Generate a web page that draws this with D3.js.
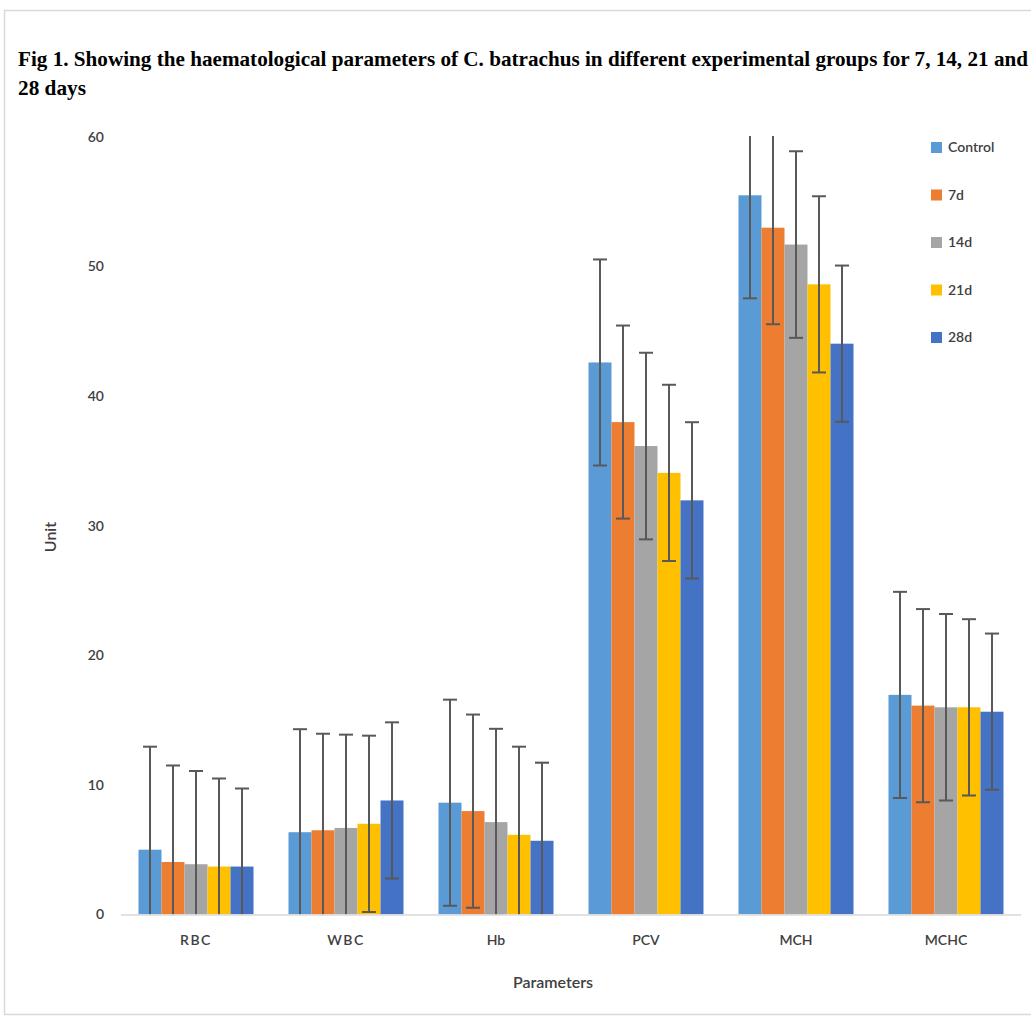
<!DOCTYPE html>
<html>
<head>
<meta charset="utf-8">
<script src="https://cdn.jsdelivr.net/npm/d3@7"></script>
<style>
  html, body { margin: 0; padding: 0; background: #fff; }
  svg { display: block; }
</style>
</head>
<body>
<svg id="chart" width="1031" height="1019"></svg>
<script>
// ---- data ----
const categories = ["RBC", "WBC", "Hb", "PCV", "MCH", "MCHC"];
const seriesNames = ["Control", "7d", "14d", "21d", "28d"];
const controlValues = [5.0, 6.35, 8.63, 42.6, 55.5, 16.95];
const d7Values      = [4.05, 6.5, 7.98, 38.0, 53.0, 16.12];
const d14Values     = [3.88, 6.68, 7.13, 36.15, 51.7, 15.99];
const d21Values     = [3.7, 7.0, 6.15, 34.08, 48.63, 15.99];
const d28Values     = [3.7, 8.8, 5.69, 31.96, 44.05, 15.65];
const seriesErrors  = [7.95, 7.45, 7.2, 6.8, 6.03];
const yTicks = [0, 10, 20, 30, 40, 50, 60];
const seriesColors = ["#5B9BD5", "#ED7D31", "#A5A5A5", "#FFC000", "#4472C4"];

const seriesValues = [controlValues, d7Values, d14Values, d21Values, d28Values];
const rows = [];
categories.forEach((c, ci) => {
  seriesNames.forEach((s, si) => {
    rows.push({ cat: c, series: s, si: si, value: seriesValues[si][ci], err: seriesErrors[si] });
  });
});

const svg = d3.select("#chart");

// frame
svg.append("rect")
  .attr("x", 4.5).attr("y", 10.5).attr("width", 1040).attr("height", 1004)
  .attr("fill", "none").attr("stroke", "#d9d9d9").attr("stroke-width", 1.5);

// title
const titleFont = "'Liberation Serif', 'Times New Roman', serif";
svg.append("text")
  .attr("x", 18).attr("y", 66)
  .attr("font-family", titleFont).attr("font-weight", "bold").attr("font-size", 21)
  .attr("textLength", 1010).attr("lengthAdjust", "spacingAndGlyphs")
  .attr("fill", "#000")
  .text("Fig 1. Showing the haematological parameters  of C. batrachus  in different experimental groups for 7, 14, 21 and");
svg.append("text")
  .attr("x", 18).attr("y", 95)
  .attr("font-family", titleFont).attr("font-weight", "bold").attr("font-size", 21)
  .attr("textLength", 68).attr("lengthAdjust", "spacingAndGlyphs")
  .attr("fill", "#000")
  .text("28 days");

// scales
const plotLeft = 121, plotRight = 1021, plotTop = 137, plotBottom = 914.5;
const x0 = d3.scaleBand().domain(categories).range([plotLeft, plotRight])
  .paddingInner(0.2333).paddingOuter(0.1167);
const x1 = d3.scaleBand().domain(seriesNames).range([0, x0.bandwidth()]).padding(0);
const y = d3.scaleLinear().domain([0, 60]).range([plotBottom, plotTop]);

const font = "Lato, 'Open Sans', sans-serif";
const textColor = "#404040";

// y tick labels
svg.append("g")
  .selectAll("text").data(yTicks).join("text")
  .attr("x", 104).attr("y", d => y(d)).attr("dy", "0.35em")
  .attr("text-anchor", "end")
  .attr("font-family", font).attr("font-size", 14).attr("font-weight", 600).attr("fill", textColor)
  .text(d => d);

// clip
svg.append("defs").append("clipPath").attr("id", "plotClip")
  .append("rect").attr("x", plotLeft).attr("y", plotTop - 1)
  .attr("width", plotRight - plotLeft).attr("height", plotBottom - plotTop + 1);

// bars
const g = svg.append("g").attr("clip-path", "url(#plotClip)");
g.selectAll("rect.bar").data(rows).join("rect")
  .attr("class", "bar")
  .attr("x", d => x0(d.cat) + x1(d.series))
  .attr("width", x1.bandwidth())
  .attr("y", d => y(d.value))
  .attr("height", d => y(0) - y(d.value))
  .attr("fill", d => seriesColors[d.si]);

// x axis line
svg.append("line")
  .attr("x1", plotLeft).attr("x2", plotRight)
  .attr("y1", plotBottom + 0.5).attr("y2", plotBottom + 0.5)
  .attr("stroke", "#d9d9d9").attr("stroke-width", 1.5);

// error bars
const eb = g.append("g").attr("stroke", "#595959").attr("stroke-width", 2);
const capHalf = 7;
rows.forEach(d => {
  const cx = x0(d.cat) + x1(d.series) + x1.bandwidth() / 2;
  const yHi = y(d.value + d.err), yLo = y(d.value - d.err);
  eb.append("line").attr("x1", cx).attr("x2", cx).attr("y1", yHi).attr("y2", yLo);
  eb.append("line").attr("x1", cx - capHalf).attr("x2", cx + capHalf).attr("y1", yHi).attr("y2", yHi);
  eb.append("line").attr("x1", cx - capHalf).attr("x2", cx + capHalf).attr("y1", yLo).attr("y2", yLo);
});

// category labels
svg.append("g")
  .selectAll("text").data(categories).join("text")
  .attr("x", d => x0(d) + x0.bandwidth() / 2)
  .attr("y", 945)
  .attr("text-anchor", "middle")
  .attr("font-family", font).attr("font-size", 14).attr("font-weight", 600).attr("fill", textColor)
  .attr("letter-spacing", d => (d === "RBC" || d === "WBC") ? 1.5 : 0)
  .text(d => d);

// axis titles
svg.append("text")
  .attr("transform", "translate(56,537) rotate(-90)")
  .attr("text-anchor", "middle")
  .attr("font-family", font).attr("font-size", 16).attr("font-weight", 600).attr("fill", textColor)
  .text("Unit");
svg.append("text")
  .attr("x", 553).attr("y", 988)
  .attr("text-anchor", "middle")
  .attr("font-family", font).attr("font-size", 16).attr("font-weight", 600).attr("fill", textColor)
  .text("Parameters");

// legend
const legend = svg.append("g");
seriesNames.forEach((s, i) => {
  const ly = 147.5 + i * 47.5;
  legend.append("rect").attr("x", 931).attr("y", ly - 5.5).attr("width", 11).attr("height", 11)
    .attr("fill", seriesColors[i]);
  legend.append("text").attr("x", 948).attr("y", ly).attr("dy", "0.35em")
    .attr("font-family", font).attr("font-size", 14).attr("font-weight", 600).attr("fill", textColor)
    .text(s);
});
</script>
</body>
</html>
